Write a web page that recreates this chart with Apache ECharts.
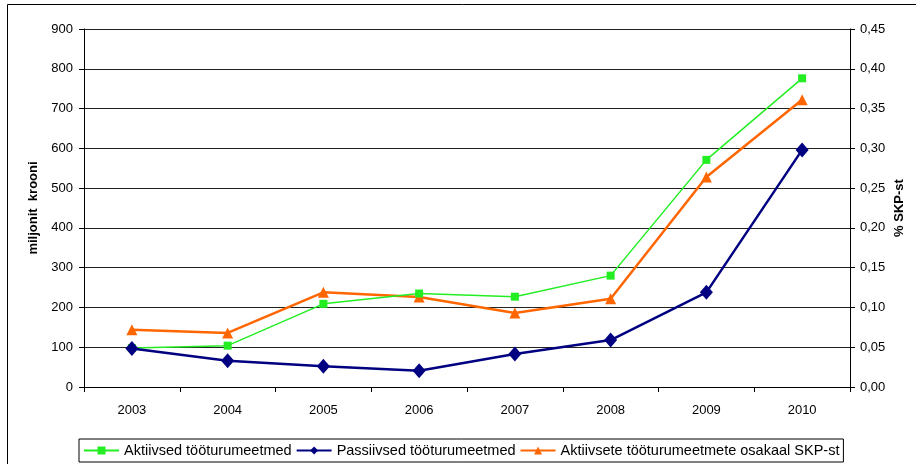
<!DOCTYPE html>
<html lang="et">
<head>
<meta charset="UTF-8">
<title>Tööturumeetmed</title>
<script src="https://cdn.jsdelivr.net/npm/echarts@6/dist/echarts.min.js"></script>
<style>
  body { margin: 0; background: #fff; }
  #chart { width: 916px; height: 464px; }
</style>
</head>
<body>
<div id="chart"></div>
<script>
// aastad
var years = ['2003', '2004', '2005', '2006', '2007', '2008', '2009', '2010'];
// miljonit krooni
var aktiivsed = [98, 104, 209, 235, 227, 280, 571, 776];
var passiivsed = [97, 66, 52, 41, 83, 118, 238, 596];
// % SKP-st
var osakaal = [0.072, 0.068, 0.119, 0.113, 0.093, 0.111, 0.264, 0.361];

var seriesNames = ['Aktiivsed tööturumeetmed', 'Passiivsed tööturumeetmed', 'Aktiivsete tööturumeetmete osakaal SKP-st'];

var font = 'Liberation Sans, Arial, sans-serif';

var chart = echarts.init(document.getElementById('chart'));
var option = {
  animation: false,
  textStyle: { fontFamily: font },
  graphic: [{
    type: 'rect',
    shape: { x: 7.5, y: 4.5, width: 1000, height: 1000 },
    style: { fill: 'none', stroke: '#000', lineWidth: 1 },
    silent: true
  }],
  grid: { left: 84, right: 66, top: 29, bottom: 77, outerBoundsMode: 'none', containLabel: false },
  legend: {
    bottom: 2,
    left: 79,
    itemGap: 4,
    itemWidth: 35,
    itemHeight: 10,
    padding: [4, 4, 4, 4],
    borderColor: '#000',
    borderWidth: 1,
    borderRadius: 0,
    textStyle: { fontSize: 14.5, color: '#000', fontFamily: font },
    data: seriesNames
  },
  xAxis: {
    type: 'category',
    data: years,
    boundaryGap: true,
    axisLine: { lineStyle: { color: '#000', width: 1 } },
    axisTick: { show: true, alignWithLabel: false, length: 5, lineStyle: { color: '#000' } },
    axisLabel: { color: '#000', fontSize: 13, margin: 17 },
    splitLine: { show: false }
  },
  yAxis: [{
    type: 'value',
    min: 0, max: 900, interval: 100,
    name: 'miljonit  krooni',
    nameLocation: 'middle',
    nameGap: 44,
    nameTextStyle: { fontWeight: 'bold', fontSize: 13, color: '#000' },
    axisLine: { show: true, lineStyle: { color: '#000' } },
    axisTick: { show: true, length: 5, lineStyle: { color: '#000' } },
    axisLabel: { color: '#000', fontSize: 13, margin: 11 },
    splitLine: { show: true, lineStyle: { color: '#222', width: 1 } }
  }, {
    type: 'value',
    min: 0, max: 0.45, interval: 0.05,
    name: '% SKP-st',
    nameLocation: 'middle',
    nameRotate: 90,
    nameGap: 43,
    nameMoveOverlap: false,
    nameTextStyle: { fontWeight: 'bold', fontSize: 13, color: '#000' },
    axisLine: { show: true, lineStyle: { color: '#000' } },
    axisTick: { show: true, length: 5, inside: false, lineStyle: { color: '#000' } },
    axisLabel: {
      color: '#000', fontSize: 13, margin: 10,
      formatter: function (v) { return v.toFixed(2).replace('.', ','); }
    },
    splitLine: { show: false }
  }],
  series: [{
    name: seriesNames[0],
    type: 'line',
    data: aktiivsed,
    yAxisIndex: 0,
    symbol: 'rect',
    symbolSize: 8,
    showAllSymbol: true,
    lineStyle: { color: '#22ee22', width: 1.5 },
    itemStyle: { color: '#22ee22' },
    z: 3
  }, {
    name: seriesNames[1],
    type: 'line',
    data: passiivsed,
    yAxisIndex: 0,
    symbol: 'diamond',
    symbolSize: [13, 15],
    lineStyle: { color: '#000080', width: 2.5 },
    itemStyle: { color: '#000080' },
    z: 4
  }, {
    name: seriesNames[2],
    type: 'line',
    data: osakaal,
    yAxisIndex: 1,
    symbol: 'triangle',
    symbolSize: 11,
    lineStyle: { color: '#ff6600', width: 2.5 },
    itemStyle: { color: '#ff6600' },
    z: 2
  }]
};
chart.setOption(option);
</script>
</body>
</html>
